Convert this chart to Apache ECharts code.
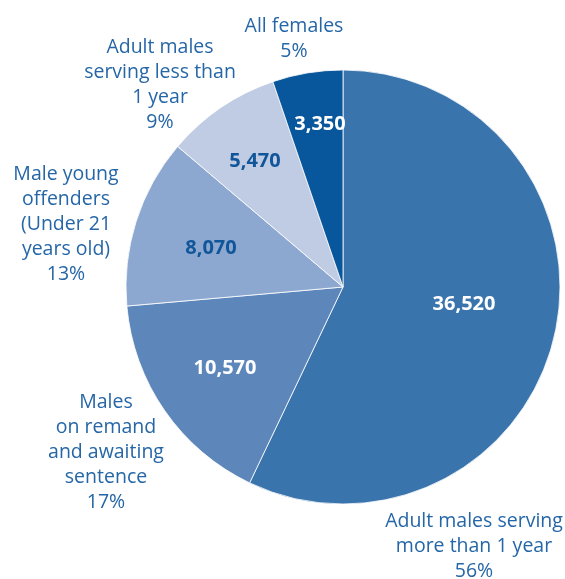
<!DOCTYPE html>
<html>
<head>
<meta charset="utf-8">
<style>
  html, body { margin: 0; padding: 0; background: #ffffff; }
  #chart { width: 565px; height: 579px; }
</style>
<script src="https://cdn.jsdelivr.net/npm/echarts@6/dist/echarts.min.js"></script>
</head>
<body>
<div id="chart"></div>
<script>
// Prison population by group
const categories = [
  'Adult males serving\nmore than 1 year',
  'Males\non remand\nand awaiting\nsentence',
  'Male young\noffenders\n(Under 21\nyears old)',
  'Adult males\nserving less than\n1 year',
  'All females'
];
const values = [36520, 10570, 8070, 5470, 3350];
const percentLabels = ['56%', '17%', '13%', '9%', '5%'];

// Layout of the text blocks (centre points)
const valueLabelPos = [[464, 304], [225, 368], [211, 248], [255, 161], [320, 124]];
const nameLabelPos = [[474, 546], [106, 452], [66, 224], [160, 85], [294, 39]];

const sliceColors = ['#3a74ad', '#5d86ba', '#8ca8d0', '#c0cbe4', '#08579c'];
const valueTextColors = ['#ffffff', '#ffffff', '#105699', '#105699', '#ffffff'];
const textBlue = '#2566a7';
const fontFamily = '"Open Sans", "Noto Sans", sans-serif';

const chart = echarts.init(document.getElementById('chart'), null, { renderer: 'canvas' });

const fmt = v => v.toLocaleString('en-US');

const sliceData = values.map((v, i) => ({
  name: categories[i],
  value: v,
  itemStyle: { color: sliceColors[i] },
  label: { color: valueTextColors[i] }
}));

const nameData = values.map((v, i) => ({
  name: categories[i],
  value: v
}));

const pieCommon = {
  type: 'pie',
  center: [343, 287],
  radius: [0, 217],
  startAngle: 90,
  clockwise: true,
  animation: false,
  silent: true,
  avoidLabelOverlap: false
};

chart.setOption({
  backgroundColor: '#ffffff',
  series: [
    Object.assign({}, pieCommon, {
      data: sliceData,
      itemStyle: { borderColor: '#ffffff', borderWidth: 0.8 },
      label: {
        show: true,
        position: 'inside',
        formatter: p => fmt(p.value),
        fontFamily: fontFamily,
        fontWeight: 'bold',
        fontSize: 20,
        overflow: 'none'
      },
      labelLine: { show: false },
      labelLayout: p => ({
        x: valueLabelPos[p.dataIndex][0],
        y: valueLabelPos[p.dataIndex][1],
        align: 'center',
        verticalAlign: 'middle'
      })
    }),
    Object.assign({}, pieCommon, {
      data: nameData,
      itemStyle: { color: 'rgba(0,0,0,0)', borderWidth: 0 },
      label: {
        show: true,
        position: 'inside',
        formatter: p => p.name + '\n' + percentLabels[p.dataIndex],
        fontFamily: fontFamily,
        fontSize: 19.5,
        lineHeight: 25,
        align: 'center',
        color: textBlue,
        overflow: 'none'
      },
      labelLine: { show: false },
      labelLayout: p => ({
        x: nameLabelPos[p.dataIndex][0],
        y: nameLabelPos[p.dataIndex][1],
        align: 'center',
        verticalAlign: 'middle'
      })
    })
  ]
});
</script>
</body>
</html>
